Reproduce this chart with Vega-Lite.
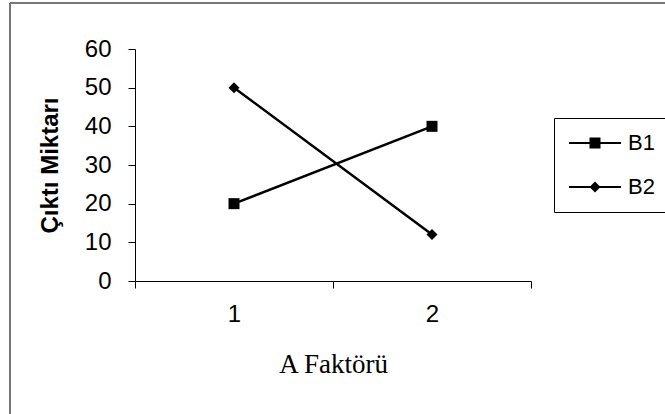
{
  "$schema": "https://vega.github.io/schema/vega-lite/v6.json",
  "width": 655,
  "height": 411,
  "autosize": {"type": "none"},
  "padding": {"left": 10, "top": 3, "right": 0, "bottom": 0},
  "background": "white",
  "config": {
    "view": {"stroke": "#777777", "strokeWidth": 2, "strokeDash": [655, 1066, 411, 0]},
    "font": "Liberation Sans"
  },
  "data": {
    "values": [
      {"a": 1, "series": "B1", "miktar": 20},
      {"a": 2, "series": "B1", "miktar": 40},
      {"a": 1, "series": "B2", "miktar": 50},
      {"a": 2, "series": "B2", "miktar": 12}
    ]
  },
  "encoding": {
    "y": {
      "field": "miktar",
      "type": "quantitative",
      "scale": {"domain": [0, 60], "range": [278, 46], "nice": false, "zero": true},
      "axis": {
        "orient": "left",
        "offset": -125,
        "values": [0, 10, 20, 30, 40, 50, 60],
        "tickSize": 7,
        "tickColor": "black",
        "domainColor": "black",
        "grid": false,
        "labelOverlap": false,
        "labelFlush": false,
        "labelFont": "Liberation Sans",
        "labelFontSize": 24,
        "labelColor": "black",
        "labelPadding": 17,
        "title": "Çıktı Miktarı",
        "titleFont": "Liberation Sans",
        "titleFontSize": 24,
        "titleFontWeight": "bold",
        "titleColor": "black",
        "titlePadding": 22
      }
    }
  },
  "layer": [
    {
      "mark": {"type": "line", "color": "black", "strokeWidth": 2.5},
      "encoding": {
        "x": {
          "field": "a",
          "type": "quantitative",
          "scale": {"domain": [0.5, 2.5], "range": [125, 521], "nice": false, "zero": false},
          "axis": {
            "orient": "bottom",
            "offset": -133,
            "values": [0.5, 1.5, 2.5],
            "labels": false,
            "title": null,
            "tickSize": 7,
            "tickColor": "black",
            "domainColor": "black",
            "grid": false
          }
        },
        "detail": {"field": "series"}
      }
    },
    {
      "mark": {"type": "point", "filled": true, "color": "black", "size": 121, "opacity": 1},
      "encoding": {
        "x": {
          "field": "a",
          "type": "quantitative",
          "axis": {
            "orient": "bottom",
            "offset": -133,
            "values": [1, 2],
            "format": "d",
            "ticks": false,
            "tickSize": 0,
            "domain": false,
            "grid": false,
            "labelOverlap": false,
            "labelFlush": false,
            "labelFont": "Liberation Sans",
            "labelFontSize": 24,
            "labelColor": "black",
            "labelPadding": 21,
            "title": "A Faktörü",
            "titleFont": "Liberation Serif",
            "titleFontSize": 27,
            "titleFontWeight": "normal",
            "titleColor": "black",
            "titlePadding": 25
          }
        },
        "shape": {
          "field": "series",
          "type": "nominal",
          "scale": {"domain": ["B1", "B2"], "range": ["square", "diamond"]},
          "legend": null
        }
      }
    },
    {
      "mark": {"type": "point", "filled": true, "color": "black", "size": 400, "opacity": 0},
      "encoding": {
        "x": {"field": "a", "type": "quantitative", "axis": null},
        "shape": {
          "field": "series",
          "type": "nominal",
          "scale": {
            "domain": ["B1", "B2"],
            "range": [
              "M-1,-0.1H4.2V0.1H-1ZM1.05,-0.55H2.15V0.55H1.05Z",
              "M-1,-0.1H4.2V0.1H-1ZM1.6,-0.55L2.15,0L1.6,0.55L1.05,0Z"
            ]
          },
          "legend": {
            "title": null,
            "orient": "none",
            "legendX": 544,
            "legendY": 115,
            "strokeColor": "black",
            "fillColor": "white",
            "padding": 14,
            "rowPadding": 22,
            "labelFont": "Liberation Sans",
            "labelFontSize": 22,
            "labelColor": "black",
            "labelOffset": 38,
            "symbolSize": 400,
            "symbolOpacity": 1,
            "symbolFillColor": "black",
            "symbolStrokeWidth": 0
          }
        }
      }
    }
  ],
  "resolve": {"scale": {"shape": "independent"}, "axis": {"x": "independent"}}
}
